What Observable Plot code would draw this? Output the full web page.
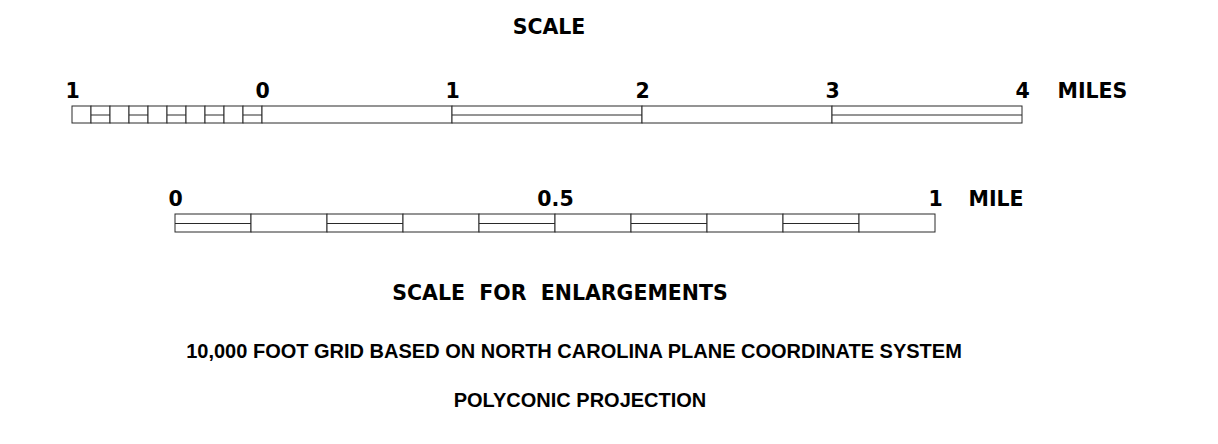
<!DOCTYPE html>
<html><head><meta charset="utf-8">
<script src="https://cdn.jsdelivr.net/npm/d3@7"></script>
<script src="https://cdn.jsdelivr.net/npm/@observablehq/plot@0.6"></script>
<style>
body{margin:0;background:#fff}
#wrap{position:relative;width:1218px;height:444px;overflow:hidden}
.t{position:absolute;transform:translateX(-50%);white-space:pre;color:#000;font-weight:700;line-height:1}
.g{font-family:"DejaVu Sans",sans-serif;font-size:20.5px}
.a{font-family:"Liberation Sans",Arial,sans-serif;font-size:20px}
.p{position:absolute;left:0}
</style></head><body><div id="wrap"></div>
<script>
// Main scale: miles (negative = left extension subdivided in tenths)
const topStart = [-1,-0.9,-0.8,-0.7,-0.6,-0.5,-0.4,-0.3,-0.2,-0.1,0,1,2,3];
const topEnd   = [-0.9,-0.8,-0.7,-0.6,-0.5,-0.4,-0.3,-0.2,-0.1,0,1,2,3,4];
const topSplit = [0,1,0,1,0,1,0,1,0,1,0,1,0,1];
const topTicks = [-1,0,1,2,3,4];
const topUnit = "MILES";

// Enlargement scale: one mile in tenths
const botStart = [0,0.1,0.2,0.3,0.4,0.5,0.6,0.7,0.8,0.9];
const botEnd   = [0.1,0.2,0.3,0.4,0.5,0.6,0.7,0.8,0.9,1];
const botSplit = [1,0,1,0,1,0,1,0,1,0];
const botTicks = [0,0.5,1];
const botUnit = "MILE";

const title = "SCALE";
const subtitle = "SCALE  FOR  ENLARGEMENTS";
const note1 = "10,000 FOOT GRID BASED ON NORTH CAROLINA PLANE COORDINATE SYSTEM";
const note2 = "POLYCONIC PROJECTION";

const wrap = document.getElementById("wrap");
const lineColor = "#2a2a2a";
const fontStyle = {fontFamily: "'DejaVu Sans', sans-serif", fontWeight: 700, fontSize: "20.5px", background: "transparent", overflow: "visible"};

function bar(starts, ends, splits, ticks, unit, opts) {
  const segs = starts.map((s, i) => ({x1: s, x2: ends[i], split: splits[i]}));
  return Plot.plot({
    width: 1218, height: opts.height,
    marginLeft: opts.ml, marginRight: opts.mr, marginTop: opts.mt, marginBottom: opts.mb,
    x: {domain: [ticks[0], ticks[ticks.length - 1]]},
    y: {domain: [0, 1], axis: null},
    style: fontStyle,
    marks: [
      Plot.rect(segs, {x1: "x1", x2: "x2", y1: 0, y2: 1, fill: "white", stroke: lineColor, strokeWidth: 1}),
      Plot.ruleY(segs.filter(d => d.split), {x1: "x1", x2: "x2", y: 0.5, stroke: lineColor, strokeWidth: 1}),
      Plot.axisX(ticks, {anchor: "top", tickSize: 0, tickPadding: 9, tickFormat: d => String(Math.abs(d)), fill: "#000", fontSize: 20.5, fontWeight: 700}),
      Plot.text([unit], {x: ticks[ticks.length - 1], y: 1, dx: opts.udx, dy: -9, text: d => d, textAnchor: "start", lineAnchor: "bottom", fill: "#000", fontSize: 20.5, fontWeight: 700})
    ]
  });
}

const pA = bar(topStart, topEnd, topSplit, topTicks, topUnit, {height: 140, ml: 72, mr: 196, mt: 106, mb: 17, udx: 35});
pA.classList.add("p"); pA.style.top = "0px";
wrap.appendChild(pA);

const pB = bar(botStart, botEnd, botSplit, botTicks, botUnit, {height: 110, ml: 175, mr: 283, mt: 74, mb: 18, udx: 33});
pB.classList.add("p"); pB.style.top = "140px";
wrap.appendChild(pB);

function addText(txt, cls, cx, top) {
  const d = document.createElement("div");
  d.className = "t " + cls;
  d.textContent = txt;
  d.style.left = cx + "px";
  d.style.top = top + "px";
  wrap.appendChild(d);
}
addText(title, "g", 549, 17);
addText(subtitle, "g", 560, 283);
addText(note1, "a", 574, 341);
addText(note2, "a", 580, 390);
</script></body></html>
